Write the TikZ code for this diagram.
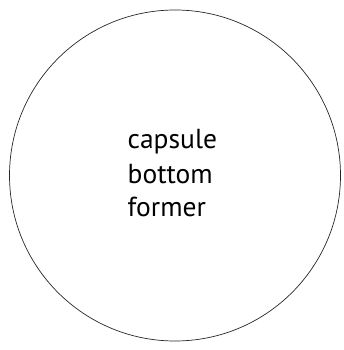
\documentclass[tikz,border=0pt]{standalone}
\usepackage{fontspec}
\setmainfont{PT Sans}
\begin{document}
\begin{tikzpicture}[x=1pt,y=1pt,
  bubble/.style={draw=black!85, line width=0.7pt, circle, minimum size=331pt, inner sep=0pt},
  caption/.style={anchor=base west, inner sep=0pt, font=\fontsize{27.5}{34}\selectfont}]
\useasboundingbox (0,0) rectangle (344,-350);
\node[bubble] (ring) at (175,-175.5) {};
\node[caption] (capsule) at (127.5,-148.3) {capsule};
\node[caption] (bottom) at (127.5,-183.3) {bottom};
\node[caption] (former) at (127.5,-216.7) {former};
\end{tikzpicture}
\end{document}
